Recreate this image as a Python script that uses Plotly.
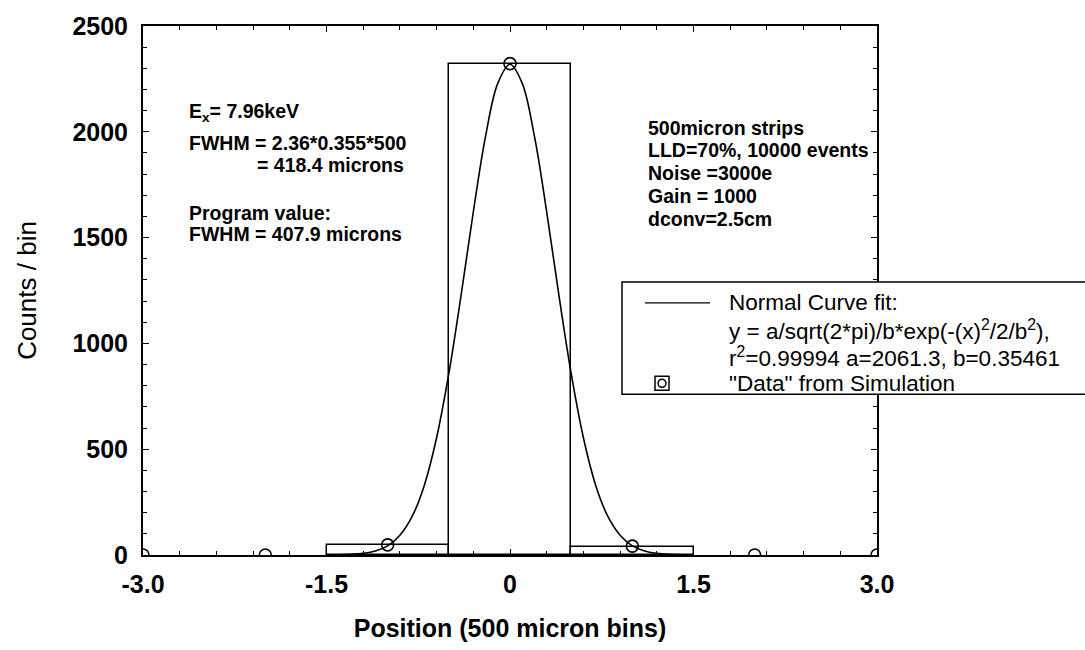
import plotly.graph_objects as go

# ---------------- data ----------------
bin_centers = [-1.0, 0.0, 1.0]
bin_counts = [48, 2322, 40]

data_x = [-3.0, -2.0, -1.0, 0.0, 1.0, 2.0, 3.0]
data_y = [0, 0, 48, 2322, 42, 0, 0]

fit_x = [-1.4, -1.3, -1.2, -1.1, -1.0, -0.9, -0.8, -0.7, -0.6, -0.5, -0.4, -0.3, -0.2, -0.1, 0.0,
         0.1, 0.2, 0.3, 0.4, 0.5, 0.6, 0.7, 0.8, 0.9, 1.0, 1.1, 1.2, 1.3, 1.4]
fit_y = [1, 3, 8, 19, 43, 93, 182, 330, 554, 858, 1227, 1621, 1978, 2229, 2319,
         2229, 1978, 1621, 1227, 858, 554, 330, 182, 93, 43, 19, 8, 3, 1]

x_tickvals = [-3.0, -1.5, 0.0, 1.5, 3.0]
x_ticktext = ["-3.0", "-1.5", "0", "1.5", "3.0"]
y_tickvals = [0, 500, 1000, 1500, 2000, 2500]
y_ticktext = ["0", "500", "1000", "1500", "2000", "2500"]

left_notes = ["E<sub>x</sub>= 7.96keV", "FWHM = 2.36*0.355*500", "= 418.4 microns",
              "Program value:", "FWHM = 407.9 microns"]
right_notes = ["500micron strips", "LLD=70%, 10000 events", "Noise =3000e",
               "Gain = 1000", "dconv=2.5cm"]
legend_lines = ["Normal Curve fit:",
                "y = a/sqrt(2*pi)/b*exp(-(x)<sup>2</sup>/2/b<sup>2</sup>),",
                "r<sup>2</sup>=0.99994 a=2061.3, b=0.35461",
                "\"Data\" from Simulation"]

# ---------------- layout geometry (pixels) ----------------
W, H = 1085, 650
L, R, T, B = 143, 877, 22, 555


def px(xp):
    return (xp - L) / (R - L)


def py(yp):
    return (B - yp) / (B - T)


fig = go.Figure()

fig.add_trace(go.Bar(x=bin_centers, y=bin_counts, width=1.0,
                     marker=dict(color="white", line=dict(color="black", width=1.5)),
                     showlegend=False))
fig.add_trace(go.Scatter(x=fit_x, y=fit_y, mode="lines", line_shape="spline",
                         line=dict(color="black", width=1.6), showlegend=False))
fig.add_trace(go.Scatter(x=data_x, y=data_y, mode="markers",
                         marker=dict(symbol="circle-open", size=12, color="black",
                                     line=dict(width=1.6)),
                         showlegend=False))

tickfont = dict(family="Liberation Sans", size=25, color="black", weight="bold")
fig.update_xaxes(range=[-3, 3], tickvals=x_tickvals, ticktext=x_ticktext,
                 showgrid=False, zeroline=False, showline=True, linecolor="black",
                 linewidth=2, mirror="ticks", ticks="inside", ticklen=6,
                 tickcolor="black", tickfont=tickfont, ticklabelstandoff=6,
                 minor=dict(dtick=0.3, tick0=-3, ticks="inside", ticklen=4, tickcolor="black"),
                 title=dict(text="Position (500 micron bins)",
                            font=dict(family="Liberation Sans", size=25, color="black", weight="bold"),
                            standoff=22))
fig.update_yaxes(range=[0, 2500], tickvals=y_tickvals, ticktext=y_ticktext,
                 showgrid=False, zeroline=False, showline=True, linecolor="black",
                 linewidth=2, mirror="ticks", ticks="inside", ticklen=6,
                 tickcolor="black", tickfont=tickfont, ticklabelstandoff=8,
                 minor=dict(dtick=100, tick0=0, ticks="inside", ticklen=4, tickcolor="black"),
                 title=dict(text="Counts / bin",
                            font=dict(family="Liberation Sans", size=26, color="black"),
                            standoff=28))

annots = []
note_font = dict(family="Liberation Sans", size=19.5, color="black", weight="bold")
left_pos = [(188, 109), (188, 140), (256, 162), (188, 210), (188, 232)]
for txt, (xp, yp) in zip(left_notes, left_pos):
    annots.append(dict(x=px(xp), y=py(yp), xref="paper", yref="paper", text=txt,
                       showarrow=False, xanchor="left", yanchor="middle", font=note_font,
                       borderpad=0))
right_y = [125, 147, 170, 193, 216]
for txt, yp in zip(right_notes, right_y):
    annots.append(dict(x=px(647), y=py(yp), xref="paper", yref="paper", text=txt,
                       showarrow=False, xanchor="left", yanchor="middle", font=note_font,
                       bgcolor="white", borderpad=0))

leg_font = dict(family="Liberation Sans", size=22.5, color="black")
leg_pos = [(728, 301), (728, 328), (728, 355), (728, 382)]
for txt, (xp, yp) in zip(legend_lines, leg_pos):
    annots.append(dict(x=px(xp), y=py(yp), xref="paper", yref="paper", text=txt,
                       showarrow=False, xanchor="left", yanchor="middle", font=leg_font,
                       borderpad=0))

shapes = [
    dict(type="rect", xref="paper", yref="paper", x0=px(622), x1=px(1095), y0=py(393), y1=py(280),
         line=dict(color="black", width=1.5), fillcolor="white", layer="above"),
    dict(type="line", xref="paper", yref="paper", x0=px(645), x1=px(710), y0=py(301), y1=py(301),
         line=dict(color="black", width=1.2), layer="above"),
    dict(type="rect", xref="paper", yref="paper", x0=px(655), x1=px(669), y0=py(389), y1=py(375),
         line=dict(color="black", width=1.5), fillcolor="white", layer="above"),
    dict(type="circle", xref="paper", yref="paper", x0=px(658), x1=px(666), y0=py(386), y1=py(378),
         line=dict(color="black", width=1.5), layer="above"),
]

fig.update_layout(width=W, height=H, margin=dict(l=L, r=W - R, t=T, b=H - B),
                  plot_bgcolor="white", paper_bgcolor="white", bargap=0,
                  showlegend=False, annotations=annots, shapes=shapes)

fig.write_html("out.html")
